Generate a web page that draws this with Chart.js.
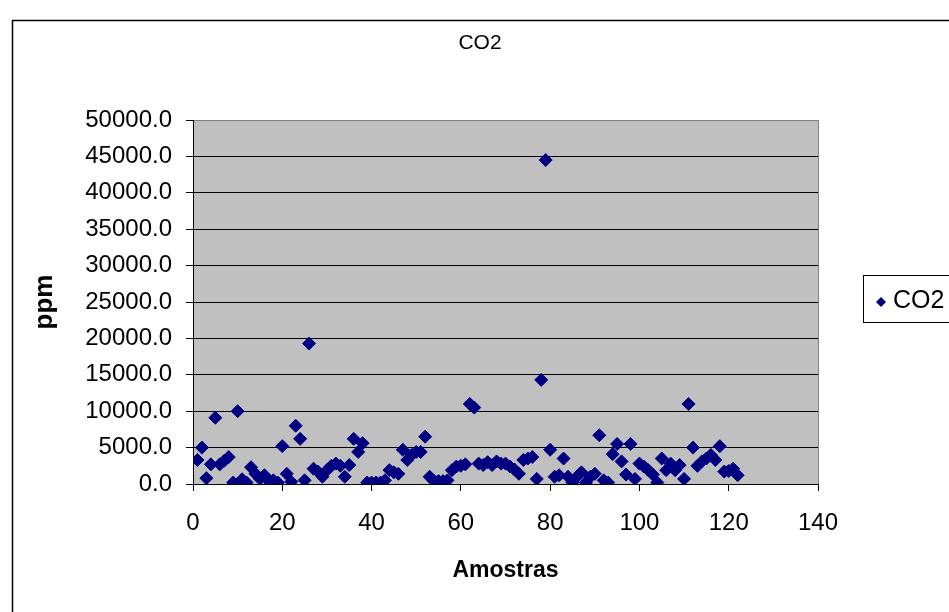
<!DOCTYPE html>
<html>
<head>
<meta charset="utf-8">
<title>CO2</title>
<script src="https://cdn.jsdelivr.net/npm/chart.js@4.4.1/dist/chart.umd.min.js"></script>
<style>
  html, body { margin:0; padding:0; background:#fff; }
  #wrap { width:949px; height:612px; }
</style>
</head>
<body>
<div id="wrap"><canvas id="chart" width="949" height="612"></canvas></div>
<script>
// CO2 (ppm) per amostra
const seriesName = 'CO2';
const co2 = [
  3300, 5000, 800, 2700, 9100, 2700, 3200, 3700, 200, 10000,
  650, 200, 2300, 1400, 700, 1200, 400, 500, 200, 5200,
  1400, 300, 8000, 6200, 500, 19300, 2100, 1700, 1000, 1900,
  2500, 2800, 2500, 1000, 2600, 6200, 4400, 5600, 200, 200,
  200, 200, 500, 1900, 1600, 1400, 4700, 3300, 4000, 4400,
  4400, 6500, 1000, 400, 400, 400, 500, 1900, 2400, 2500,
  2700, 11000, 10500, 2800, 2600, 3000, 2600, 3100, 2800, 2800,
  2400, 2000, 1400, 3300, 3500, 3700, 700, 14300, 44500, 4700,
  1000, 1200, 3500, 1000, 200, 1000, 1600, 200, 1000, 1400,
  6700, 500, 200, 4100, 5500, 3100, 1300, 5500, 700, 2800,
  2400, 1900, 1300, 200, 3500, 1900, 2800, 1900, 2600, 700,
  11000, 5000, 2500, 3100, 3500, 4000, 3300, 5200, 1700, 1800,
  2100, 1200
];
// sample number = position in the list (1..122)
const amostras = co2.map((v,i)=>i+1);
const xTicks = [0, 20, 40, 60, 80, 100, 120, 140];
const yTicks = [0, 5000, 10000, 15000, 20000, 25000, 30000, 35000, 40000, 45000, 50000];

const NAVY = '#000080';
const FONT = '"Liberation Sans", Arial, sans-serif';

const frame = {
  id:'frame',
  beforeDraw(chart){
    const {ctx, chartArea:a} = chart;
    ctx.save();
    ctx.fillStyle = '#fff';
    ctx.fillRect(0,0,chart.width,chart.height);
    // outer border
    ctx.strokeStyle = '#000';
    ctx.lineWidth = 1.5;
    ctx.strokeRect(12.5, 20.5, 1200, 1200);
    // plot area
    ctx.fillStyle = '#c0c0c0';
    ctx.fillRect(a.left, a.top, a.right-a.left, a.bottom-a.top);
    ctx.restore();
  },
  afterDraw(chart){
    const {ctx, chartArea:a} = chart;
    ctx.save();
    // right edge of plot area
    ctx.strokeStyle = '#808080';
    ctx.lineWidth = 1;
    ctx.beginPath();
    ctx.moveTo(Math.round(a.right)+0.5, a.top);
    ctx.lineTo(Math.round(a.right)+0.5, a.bottom);
    ctx.stroke();
    // title
    ctx.fillStyle = '#000';
    ctx.font = '21px ' + FONT;
    ctx.textAlign = 'center';
    ctx.textBaseline = 'middle';
    ctx.fillText(seriesName, 480, 43);
    // legend box
    ctx.strokeStyle = '#000';
    ctx.lineWidth = 1;
    ctx.strokeRect(863.5, 275.5, 200, 47);
    ctx.fillStyle = NAVY;
    const cx = 881, cy = 302, r = 5;
    ctx.beginPath();
    ctx.moveTo(cx-r, cy); ctx.lineTo(cx, cy-r); ctx.lineTo(cx+r, cy); ctx.lineTo(cx, cy+r);
    ctx.closePath(); ctx.fill();
    ctx.fillStyle = '#000';
    ctx.font = '25px ' + FONT;
    ctx.textAlign = 'left';
    ctx.fillText(seriesName, 893, 301);
    ctx.restore();
  }
};

new Chart(document.getElementById('chart'), {
  type:'scatter',
  data:{
    datasets:[{
      label: seriesName,
      data: amostras.map((x,i)=>({x, y: co2[i]})),
      pointStyle:'rectRot',
      radius:6.5,
      hoverRadius:6.5,
      backgroundColor:NAVY,
      borderColor:NAVY,
      borderWidth:1
    }]
  },
  options:{
    responsive:false,
    animation:false,
    devicePixelRatio:1,
    layout:{ padding:{ left:20, right:131, top:120, bottom:10 } },
    plugins:{ legend:{display:false}, title:{display:false}, tooltip:{enabled:false} },
    scales:{
      x:{
        type:'linear', min:0, max:140,
        afterBuildTicks: s => { s.ticks = xTicks.map(v=>({value:v})); },
        afterFit: s => { s.height = 118; },
        ticks:{ color:'#000', font:{family:FONT, size:24}, padding:18, maxRotation:0 },
        grid:{ drawOnChartArea:false, drawTicks:true, tickLength:7, color:'#000', tickColor:'#000' },
        border:{ display:true, color:'#000', width:1 },
        title:{ display:true, text:'Amostras', color:'#000',
                font:{family:FONT, size:23, weight:'bold'}, padding:{top:0, bottom:18} }
      },
      y:{
        type:'linear', min:0, max:50000,
        afterBuildTicks: s => { s.ticks = yTicks.map(v=>({value:v})); },
        afterFit: s => { s.width = 173; },
        ticks:{ color:'#000', font:{family:FONT, size:24}, padding:14,
                callback: v => Number(v).toFixed(1) },
        grid:{ color: c => (c.tick && c.tick.value === 50000) ? '#808080' : '#000',
               tickColor:'#000', lineWidth:1, tickLength:7 },
        border:{ display:true, color:'#000', width:1 },
        title:{ display:true, text:'ppm', color:'#000',
                font:{family:FONT, size:26, weight:'bold'}, padding:{top:9, bottom:0} }
      }
    }
  },
  plugins:[frame]
});
</script>
</body>
</html>
